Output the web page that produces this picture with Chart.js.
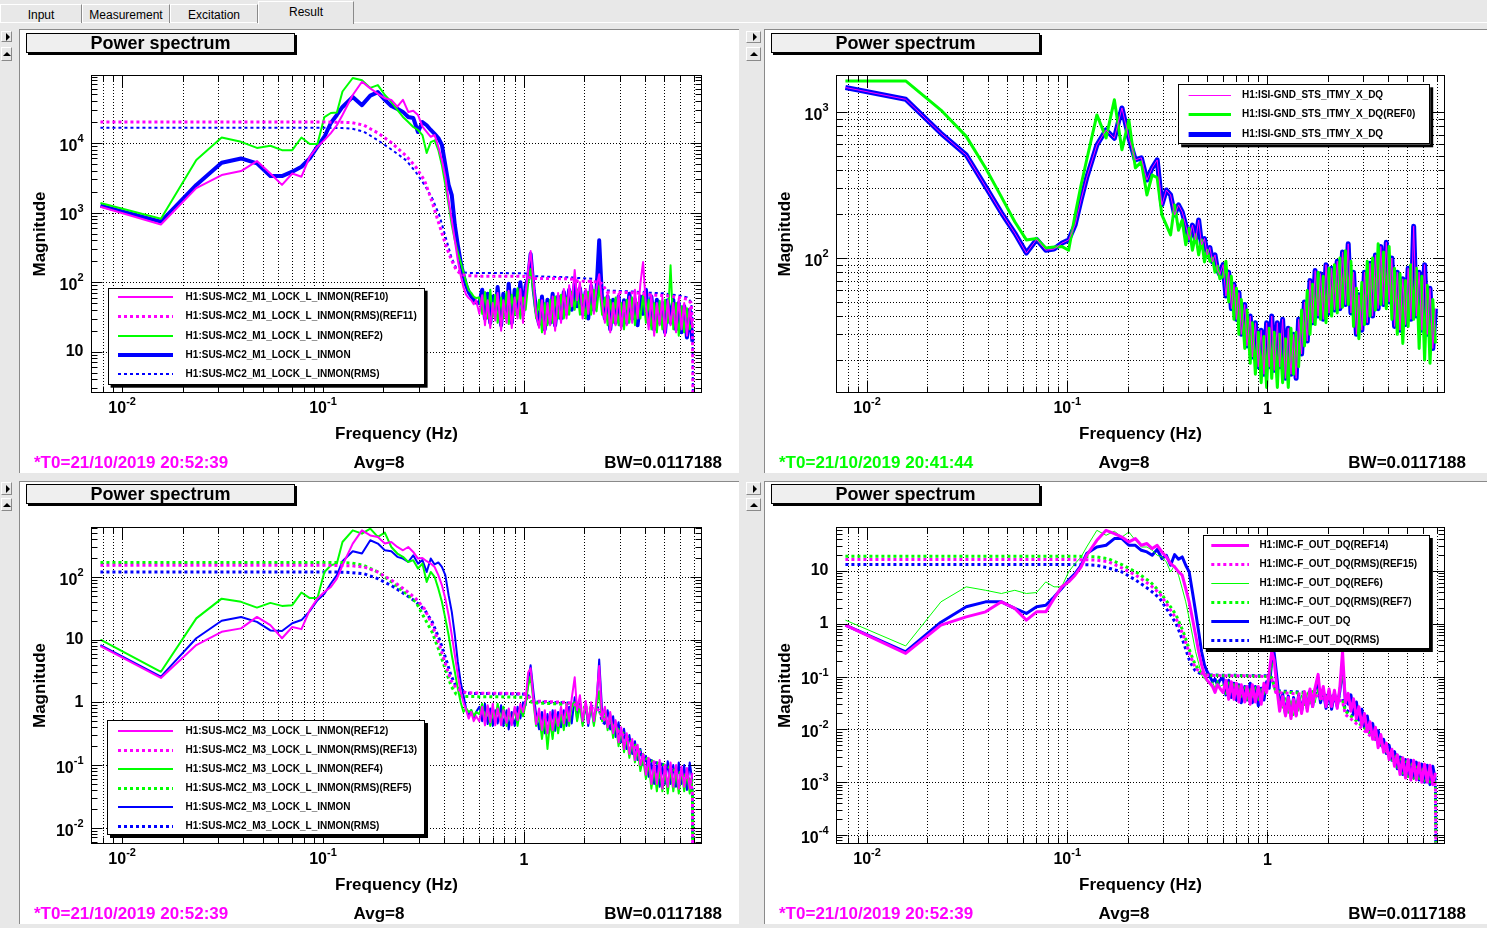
<!DOCTYPE html>
<html>
<head>
<meta charset="utf-8">
<title>Power spectrum</title>
<script src="https://cdn.jsdelivr.net/npm/chart.js@4.4.1/dist/chart.umd.min.js"></script>
<style>
  body { margin: 0; width: 1487px; height: 928px; background: #e8e8e8; position: relative; overflow: hidden; font-family: "Liberation Sans", Arial, sans-serif; }
  .tab { position: absolute; top: 4px; height: 19px; box-sizing: border-box; border-top: 1px solid #fff; border-left: 1px solid #fff; border-right: 1px solid #8a8a8a; font-size: 12px; line-height: 20px; text-align: center; color: #000; }
  .tab.sel { top: 1px; height: 23px; line-height: 21px; background: #e8e8e8; z-index: 2; }
  #tabline { position: absolute; left: 0; top: 22px; width: 1487px; height: 1px; background: #fff; }
  .btn { position: absolute; box-sizing: border-box; background: #e8e8e8; border-top: 1px solid #fff; border-left: 1px solid #fff; border-right: 1px solid #8a8a8a; border-bottom: 1px solid #8a8a8a; }
  .btn i { position: absolute; left: 50%; top: 50%; width: 0; height: 0; }
  .btn.right i { margin: -4px 0 0 -1px; border-top: 4px solid transparent; border-bottom: 4px solid transparent; border-left: 4px solid #000; }
  .btn.up i { margin: -2px 0 0 -4px; border-left: 4px solid transparent; border-right: 4px solid transparent; border-bottom: 4px solid #000; }
  .panel { position: absolute; background: #fff; box-shadow: inset 1px 1px 0 #8a8a8a; }
  .panel canvas { position: absolute; left: 0; top: 0; }
  .ptitle { position: absolute; left: 7px; top: 4px; width: 269px; height: 20px; box-sizing: border-box; border: 1px solid #000; background: #efefef; box-shadow: 2px 2px 0 #000; font: bold 18px "Liberation Sans", Arial, sans-serif; line-height: 19px; text-align: center; }
  .st { position: absolute; top: 425px; font: bold 17px "Liberation Sans", Arial, sans-serif; line-height: 18px; white-space: nowrap; }
  .st.avg { left: 360px; transform: translateX(-50%); }
  .low .st { top: 424px; }
</style>
</head>
<body>
<div id="tabline"></div>
<div class="tab" style="left:0;width:82px">Input</div>
<div class="tab" style="left:82px;width:88px">Measurement</div>
<div class="tab" style="left:170px;width:88px">Excitation</div>
<div class="tab sel" style="left:258px;width:96px">Result</div>

<div class="btn right" style="left:1px;top:31px;width:11px;height:11px"><i></i></div>
<div class="btn up" style="left:1px;top:47px;width:11px;height:14px"><i></i></div>
<div class="btn right" style="left:746px;top:31px;width:15px;height:12px"><i></i></div>
<div class="btn up" style="left:746px;top:47px;width:15px;height:14px"><i></i></div>
<div class="btn right" style="left:1px;top:482px;width:11px;height:13px"><i></i></div>
<div class="btn up" style="left:1px;top:498px;width:11px;height:13px"><i></i></div>
<div class="btn right" style="left:746px;top:482px;width:15px;height:13px"><i></i></div>
<div class="btn up" style="left:746px;top:498px;width:15px;height:13px"><i></i></div>

<div class="panel" style="left:19px;top:29px;width:720px;height:444px">
  <canvas id="c1" width="720" height="444"></canvas>
  <div class="ptitle">Power spectrum</div>
  <div class="st" style="left:15px;color:#ff00ff">*T0=21/10/2019 20:52:39</div>
  <div class="st avg">Avg=8</div>
  <div class="st" style="right:17px">BW=0.0117188</div>
</div>
<div class="panel" style="left:764px;top:29px;width:723px;height:444px">
  <canvas id="c2" width="723" height="444"></canvas>
  <div class="ptitle">Power spectrum</div>
  <div class="st" style="left:15px;color:#00ff00">*T0=21/10/2019 20:41:44</div>
  <div class="st avg">Avg=8</div>
  <div class="st" style="right:21px">BW=0.0117188</div>
</div>
<div class="panel low" style="left:19px;top:481px;width:720px;height:443px">
  <canvas id="c3" width="720" height="443"></canvas>
  <div class="ptitle" style="top:3px">Power spectrum</div>
  <div class="st" style="left:15px;color:#ff00ff">*T0=21/10/2019 20:52:39</div>
  <div class="st avg">Avg=8</div>
  <div class="st" style="right:17px">BW=0.0117188</div>
</div>
<div class="panel low" style="left:764px;top:481px;width:723px;height:443px">
  <canvas id="c4" width="723" height="443"></canvas>
  <div class="ptitle" style="top:3px">Power spectrum</div>
  <div class="st" style="left:15px;color:#ff00ff">*T0=21/10/2019 20:52:39</div>
  <div class="st avg">Avg=8</div>
  <div class="st" style="right:21px">BW=0.0117188</div>
</div>

<script>
// frequency bins shared by every spectrum (Hz)
const freq = [
  0.0078, 0.0156, 0.0234, 0.0313, 0.0391, 0.0469, 0.0547, 0.0625, 0.0703, 0.0781, 0.0859, 0.0938, 0.1016, 0.1094, 0.1172, 0.125,
  0.1406, 0.1563, 0.1719, 0.1875, 0.2031, 0.2188, 0.2344, 0.25, 0.2656, 0.2813, 0.2969, 0.3125,
  0.3281, 0.3438, 0.3594, 0.375, 0.3906, 0.4063, 0.4219, 0.4375, 0.4531, 0.4688, 0.4844, 0.5, 0.5156, 0.5313, 0.5469, 0.5625, 0.5781,
  0.60, 0.62, 0.64, 0.66, 0.68, 0.70, 0.72, 0.74, 0.77, 0.79,
  0.82, 0.84, 0.87, 0.90, 0.93, 0.96, 0.99, 1.02, 1.05, 1.08,
  1.12, 1.15, 1.19, 1.23, 1.27, 1.31, 1.35, 1.39, 1.43, 1.48,
  1.53, 1.58, 1.63, 1.68, 1.73, 1.79, 1.84, 1.90, 1.96, 2.03,
  2.09, 2.16, 2.23, 2.30, 2.37, 2.45, 2.53, 2.61, 2.69, 2.78,
  2.86, 2.96, 3.05, 3.15, 3.25, 3.35, 3.46, 3.57, 3.68, 3.80,
  3.92, 4.05, 4.18, 4.31, 4.45, 4.59, 4.74, 4.89, 5.04, 5.20,
  5.37, 5.54, 5.72, 5.90, 6.09, 6.28, 6.48, 6.69, 6.90,
];
// frequencies for the cumulative RMS curves (Hz)
const rmsFreq = [
  0.0078, 0.05, 0.1, 0.125, 0.14, 0.16, 0.187, 0.22, 0.26, 0.29, 0.32, 0.35, 0.38, 0.41, 0.435, 0.46, 0.49, 0.52,
  0.6, 0.8, 1.0, 1.05, 1.1, 1.3, 1.6, 1.75, 1.85, 2.2, 2.37, 2.45, 2.6, 3.2, 3.6, 3.9, 4.0, 4.5, 5.0, 5.37, 5.5,
  6.0, 6.5, 6.8, 6.9, 6.95,
];

// top left: H1:SUS-MC2_M1_LOCK_L_INMON
const m1Ref10 = [
  1210, 675, 2250, 3460, 3950, 5500, 3650, 2500, 3650, 3280, 6350, 8850, 11000, 13900, 18000, 25300,
  49000, 76000, 61000, 51000, 44000, 41700, 33300, 41700, 28000, 29000, 25300, 17200,
  14500, 12300, 13000, 8850, 5700, 3280, 1500, 780, 400, 205, 126, 85, 66, 59, 55, 48, 55,
  35, 65, 24, 55, 22, 50, 28, 70, 20, 55,
  26, 75, 22, 60, 30, 80, 26, 70, 150, 280,
  90, 35, 22, 55, 18, 50, 24, 62, 20, 70,
  26, 80, 30, 90, 45, 150, 55, 100, 30, 80,
  35, 105, 35, 85, 130, 50, 26, 70, 19, 50,
  24, 68, 21, 52, 24, 62, 26, 78, 30, 95,
  195, 45, 21, 65, 17, 50, 24, 60, 17, 55,
  24, 50, 19, 58, 21, 50, 17, 42, 22,
];
const m1Ref2 = [
  1370, 815, 5700, 12000, 10400, 8500, 9150, 7900, 7900, 12000, 9700, 9700, 23600, 27000, 27500, 55000,
  86000, 80000, 62000, 68000, 49000, 39000, 30000, 23700, 20000, 17000, 15400, 13000,
  7200, 10300, 10900, 7900, 4800, 2500, 1290, 660, 400, 270, 195, 140, 100, 77, 70, 62, 59,
  60, 35, 72, 30, 78, 32, 66, 26, 60, 30,
  72, 25, 66, 34, 82, 30, 60, 40, 95, 155,
  65, 30, 56, 19, 50, 24, 56, 26, 62, 30,
  66, 30, 60, 34, 72, 40, 78, 34, 66, 30,
  72, 34, 78, 38, 88, 34, 60, 24, 56, 26,
  60, 24, 50, 21, 56, 26, 60, 24, 50, 30,
  66, 26, 56, 21, 50, 19, 54, 21, 56, 26,
  175, 21, 50, 17, 45, 19, 42, 21, 26,
];
const m1Now = [
  1260, 740, 2500, 5200, 6000, 5100, 3350, 3350, 3870, 4560, 6000, 8850, 12300, 19400, 25300, 33000,
  46000, 35000, 48000, 54000, 41700, 34000, 31000, 28000, 23700, 22900, 14400, 20000,
  18000, 15400, 13500, 11800, 9400, 4800, 2500, 1780, 660, 340, 195, 126, 90, 72, 63, 55, 51,
  50, 78, 30, 68, 26, 62, 35, 85, 24, 68,
  32, 95, 26, 78, 40, 100, 35, 88, 115, 255,
  75, 40, 25, 62, 21, 56, 26, 68, 24, 62,
  30, 72, 35, 78, 40, 95, 45, 82, 35, 72,
  30, 88, 40, 78, 400, 55, 30, 62, 21, 56,
  26, 62, 24, 55, 26, 68, 30, 56, 24, 62,
  35, 78, 26, 62, 21, 56, 26, 50, 19, 55,
  26, 56, 21, 50, 19, 45, 16, 40, 14,
];
const m1RmsRef11 = [
  20000, 20000, 20000, 19900, 19600, 18000, 14000, 10000, 6500, 4500, 2900, 1400, 650, 330, 210, 150, 128, 124,
  122, 122, 121, 119, 113, 113, 112, 110, 104, 102, 100, 95, 72, 71, 70, 69, 66, 65, 64, 63, 62,
  60, 57, 50, 28, 1,
];
const m1RmsNow = [
  16600, 16600, 16550, 16400, 16000, 14500, 11000, 8000, 5600, 3800, 2500, 1600, 900, 420, 230, 160, 140, 136,
  135, 135, 134, 132, 122, 120, 118, 117, 115, 112, 105, 80, 76, 74, 73, 72, 71, 70, 69, 67, 66,
  64, 60, 52, 30, 1,
];

// top right: H1:ISI-GND_STS_ITMY_X_DQ
const stsNow = [
  1470, 1220, 714, 507, 308, 204, 148, 108, 134, 113, 115, 126, 133, 168, 250, 354,
  594, 753, 660, 1065, 664, 469, 485, 342, 414, 469, 231, 292,
  270, 197, 231, 207, 168, 133, 168, 133, 182, 123, 136, 105, 118, 94, 105, 83, 77,
  90, 55, 80, 45, 66, 38, 58, 30, 48, 25,
  40, 21, 36, 18, 32, 16, 36, 18, 40, 17,
  36, 18, 38, 15, 33, 16, 30, 15, 38, 22,
  50, 27, 70, 36, 82, 40, 78, 38, 90, 42,
  85, 44, 95, 45, 110, 48, 125, 42, 80, 30,
  56, 32, 80, 36, 92, 40, 105, 45, 120, 48,
  128, 50, 100, 34, 80, 32, 72, 35, 85, 38,
  165, 40, 80, 32, 90, 30, 62, 24, 45,
];
const stsRef0 = [
  1630, 1630, 1030, 680, 413, 262, 177, 133, 136, 117, 119, 120, 113, 197, 316, 469,
  954, 664, 1210, 550, 881, 414, 455, 270, 370, 354, 197, 168,
  144, 231, 155, 182, 123, 160, 113, 144, 105, 133, 94, 113, 95, 100, 80, 88, 72,
  75, 95, 50, 75, 38, 62, 30, 52, 24, 44,
  19, 36, 16, 31, 14, 29, 13, 33, 15, 31,
  13, 30, 14, 28, 13, 33, 16, 31, 18, 44,
  25, 60, 30, 66, 35, 80, 38, 75, 36, 85,
  40, 90, 42, 100, 46, 112, 48, 95, 34, 62,
  28, 68, 35, 95, 40, 100, 44, 125, 48, 110,
  45, 120, 38, 85, 30, 78, 26, 70, 34, 90,
  38, 85, 24, 75, 20, 65, 19, 52, 26,
];

// bottom left: H1:SUS-MC2_M3_LOCK_L_INMON
const m3Ref12 = [
  7.9, 2.45, 8.2, 13.3, 15.1, 23, 17, 10.5, 15.9, 14.7, 29.5, 45, 57.5, 69, 94, 153,
  340, 553, 459, 434, 340, 360, 300, 266, 300, 250, 196, 200,
  178, 163, 144, 107, 74, 45, 24.5, 11.8, 5.66, 2.72, 1.48, 1.0, 0.75, 0.55, 0.7, 0.5, 0.6,
  0.5, 0.85, 0.43, 0.9, 0.48, 0.95, 0.43, 0.8, 0.43, 0.75,
  0.47, 0.8, 0.43, 0.85, 0.52, 0.95, 0.7, 1.1, 3.0, 3.5,
  1.0, 0.45, 0.8, 0.36, 0.75, 0.32, 0.7, 0.36, 0.75, 0.42,
  0.85, 0.46, 0.95, 0.5, 1.15, 2.5, 0.75, 1.3, 0.5, 1.05,
  0.46, 1.0, 0.5, 1.15, 3.8, 0.55, 0.85, 0.4, 0.7, 0.32,
  0.52, 0.23, 0.4, 0.18, 0.32, 0.15, 0.26, 0.12, 0.21, 0.1,
  0.15, 0.07, 0.13, 0.05, 0.11, 0.05, 0.12, 0.042, 0.1, 0.045,
  0.11, 0.045, 0.1, 0.042, 0.095, 0.045, 0.09, 0.042, 0.075,
];
const m3Ref4 = [
  10, 3.07, 21.8, 45, 40, 32.4, 38.5, 34.5, 35.4, 56.4, 46, 46, 120, 153, 163, 360,
  553, 490, 590, 434, 510, 300, 236, 209, 173, 185, 136, 163,
  83, 120, 100, 65, 40, 21.8, 11.8, 5.66, 3.07, 1.66, 1.0, 0.7, 0.8, 0.7, 0.75, 0.6, 0.7,
  0.65, 0.95, 0.5, 0.85, 0.42, 0.75, 0.5, 0.95, 0.46, 0.85,
  0.42, 0.75, 0.46, 0.8, 0.42, 0.85, 0.6, 0.95, 1.8, 2.6,
  0.9, 0.42, 0.65, 0.26, 0.6, 0.18, 0.5, 0.26, 0.65, 0.32,
  0.7, 0.36, 0.8, 0.42, 0.9, 1.0, 0.5, 0.9, 0.42, 0.95,
  0.5, 0.9, 0.42, 0.85, 1.5, 0.5, 0.8, 0.36, 0.65, 0.27,
  0.48, 0.2, 0.37, 0.16, 0.28, 0.13, 0.24, 0.11, 0.18, 0.08,
  0.13, 0.06, 0.11, 0.042, 0.09, 0.038, 0.09, 0.038, 0.085, 0.035,
  0.09, 0.038, 0.08, 0.035, 0.085, 0.038, 0.075, 0.035, 0.06,
];
const m3Now = [
  8.2, 2.57, 10.5, 20, 23, 19.2, 14, 13.7, 18.2, 20.5, 28.5, 42.5, 54, 78.5, 107, 178,
  257, 236, 384, 340, 266, 257, 209, 196, 173, 221, 163, 185,
  120, 196, 158, 170, 144, 107, 51, 27.7, 11.8, 4.4, 2.1, 1.3, 0.8, 0.6, 0.75, 0.55, 0.7,
  0.85, 0.5, 0.95, 0.45, 0.8, 0.42, 0.75, 0.46, 0.9, 0.42,
  0.75, 0.37, 0.7, 0.42, 0.85, 0.55, 1.0, 0.9, 2.2, 3.9,
  1.3, 0.65, 0.37, 0.7, 0.32, 0.65, 0.37, 0.75, 0.35, 0.7,
  0.4, 0.75, 0.42, 0.85, 0.46, 1.2, 0.55, 0.95, 0.46, 0.9,
  0.42, 0.85, 0.46, 0.95, 4.8, 0.75, 0.46, 0.75, 0.37, 0.6,
  0.28, 0.48, 0.23, 0.38, 0.18, 0.3, 0.15, 0.24, 0.12, 0.18,
  0.1, 0.14, 0.065, 0.11, 0.05, 0.1, 0.045, 0.095, 0.05, 0.115,
  0.05, 0.1, 0.045, 0.11, 0.05, 0.1, 0.04, 0.11, 0.055,
];
const m3RmsRef13 = [
  153, 153, 153, 152, 150, 144, 120, 88, 60, 45, 31, 17, 8.2, 3.8, 2.2, 1.7, 1.5, 1.42,
  1.4, 1.39, 1.37, 1.3, 1.05, 1.03, 1.0, 0.97, 0.85, 0.8, 0.75, 0.58, 0.48, 0.28, 0.19, 0.14, 0.13, 0.11, 0.095, 0.088, 0.083,
  0.072, 0.062, 0.052, 0.035, 0.001,
];
const m3RmsRef5 = [
  170, 170, 170, 169, 166, 152, 120, 83, 54, 40, 22, 13, 6.4, 3.1, 1.8, 1.35, 1.26, 1.24,
  1.23, 1.22, 1.2, 1.15, 0.98, 0.96, 0.93, 0.9, 0.86, 0.8, 0.74, 0.6, 0.5, 0.3, 0.2, 0.15, 0.13, 0.11, 0.1, 0.09, 0.085,
  0.075, 0.065, 0.055, 0.035, 0.001,
];
const m3RmsNow = [
  120, 120, 120, 119, 117, 112, 94, 72, 51, 40, 30, 19, 10, 4.8, 2.6, 1.8, 1.5, 1.4,
  1.38, 1.37, 1.35, 1.28, 1.02, 1.0, 0.98, 0.96, 0.9, 0.86, 0.8, 0.5, 0.42, 0.26, 0.18, 0.14, 0.13, 0.11, 0.1, 0.09, 0.085,
  0.075, 0.064, 0.054, 0.036, 0.001,
];

// bottom right: H1:IMC-F_OUT_DQ
const imcRef14 = [
  0.94, 0.275, 0.94, 1.35, 1.68, 2.6, 1.95, 1.17, 1.68, 1.68, 3.0, 5.0, 6.2, 8.3, 11.9, 19.8,
  38, 58.7, 51, 43.8, 35.4, 41, 30.6, 33, 26.5, 30.6, 22.9, 18.4,
  13.8, 11.9, 9.6, 8.3, 4.65, 2.6, 1.26, 0.61, 0.295, 0.166, 0.107, 0.085, 0.075, 0.065, 0.05, 0.07, 0.06,
  0.05, 0.085, 0.037, 0.08, 0.037, 0.075, 0.033, 0.07, 0.033, 0.065,
  0.03, 0.07, 0.033, 0.065, 0.03, 0.075, 0.05, 0.12, 0.3, 0.2,
  0.05, 0.022, 0.042, 0.018, 0.04, 0.016, 0.037, 0.018, 0.042, 0.02,
  0.052, 0.022, 0.058, 0.027, 0.062, 0.11, 0.038, 0.065, 0.027, 0.058,
  0.027, 0.055, 0.025, 0.065, 0.3, 0.032, 0.048, 0.022, 0.038, 0.016,
  0.027, 0.012, 0.02, 0.009, 0.014, 0.0065, 0.011, 0.0045, 0.008, 0.0037,
  0.0055, 0.0027, 0.0042, 0.002, 0.0033, 0.0014, 0.0029, 0.0012, 0.0027, 0.0011,
  0.0026, 0.0011, 0.0023, 0.001, 0.0022, 0.001, 0.0021, 0.0009, 0.0015,
];
const imcRef6 = [
  1.17, 0.38, 2.6, 5.0, 4.3, 3.74, 4.3, 3.74, 3.9, 6.2, 5.0, 5.0, 9.6, 13.8, 18.4, 28.4,
  58.7, 47.3, 56.4, 43.8, 54.5, 38, 28.4, 28.4, 24.6, 19.8, 18.4, 14.8,
  9.6, 12.8, 8.3, 4.65, 2.6, 1.26, 0.61, 0.295, 0.178, 0.107, 0.09, 0.08, 0.07, 0.08, 0.06, 0.085, 0.065,
  0.07, 0.045, 0.08, 0.05, 0.075, 0.045, 0.07, 0.04, 0.065, 0.035,
  0.06, 0.04, 0.065, 0.035, 0.06, 0.045, 0.07, 0.08, 0.15, 0.22,
  0.06, 0.035, 0.025, 0.04, 0.02, 0.035, 0.018, 0.035, 0.022, 0.045,
  0.028, 0.05, 0.03, 0.055, 0.032, 0.06, 0.035, 0.055, 0.032, 0.05,
  0.03, 0.05, 0.032, 0.055, 0.1, 0.035, 0.04, 0.03, 0.028, 0.022,
  0.02, 0.016, 0.014, 0.011, 0.01, 0.008, 0.0075, 0.006, 0.005, 0.0045,
  0.0035, 0.0032, 0.0025, 0.0024, 0.0018, 0.002, 0.0014, 0.0018, 0.0012, 0.0017,
  0.0011, 0.0016, 0.0011, 0.0015, 0.001, 0.0014, 0.00095, 0.0013, 0.001,
];
const imcNow = [
  0.94, 0.295, 1.07, 2.1, 2.6, 2.6, 1.95, 1.57, 2.1, 2.24, 3.2, 4.65, 6.7, 8.9, 12.8, 21.3,
  28.4, 30.6, 41, 41, 30.6, 30.6, 24.6, 22.9, 19.8, 25.6, 17.1, 19.8,
  12.8, 20.4, 16.6, 18.4, 12.8, 9.6, 4.0, 1.68, 0.71, 0.295, 0.166, 0.123, 0.1, 0.08, 0.09, 0.07, 0.085,
  0.095, 0.045, 0.085, 0.04, 0.075, 0.036, 0.07, 0.032, 0.065, 0.036,
  0.075, 0.032, 0.065, 0.028, 0.06, 0.036, 0.08, 0.06, 0.2, 0.28,
  0.08, 0.027, 0.048, 0.019, 0.043, 0.018, 0.04, 0.019, 0.045, 0.022,
  0.048, 0.025, 0.054, 0.027, 0.058, 0.07, 0.032, 0.054, 0.025, 0.052,
  0.024, 0.048, 0.027, 0.054, 0.16, 0.036, 0.03, 0.045, 0.02, 0.033,
  0.015, 0.024, 0.011, 0.018, 0.008, 0.013, 0.0065, 0.0095, 0.005, 0.0065,
  0.0035, 0.005, 0.0026, 0.0038, 0.0018, 0.003, 0.0014, 0.0027, 0.0013, 0.0026,
  0.0012, 0.0024, 0.0011, 0.0022, 0.001, 0.0021, 0.0009, 0.002, 0.0011,
];
const imcRmsRef15 = [
  16.4, 16.4, 16.4, 16.3, 16, 15, 11.4, 8.3, 5.4, 3.7, 2.1, 1.25, 0.6, 0.26, 0.15, 0.12, 0.108, 0.105,
  0.104, 0.103, 0.1, 0.09, 0.05, 0.048, 0.046, 0.044, 0.039, 0.037, 0.034, 0.019, 0.016, 0.008, 0.0055, 0.004, 0.0036, 0.0029, 0.0024, 0.0021, 0.002,
  0.0017, 0.0014, 0.0011, 0.0008, 0.00001,
];
const imcRmsRef7 = [
  19, 19, 19, 18.8, 18.4, 17, 13.2, 9.6, 6.2, 4.0, 2.4, 1.45, 0.7, 0.3, 0.17, 0.125, 0.108, 0.105,
  0.104, 0.103, 0.1, 0.095, 0.052, 0.05, 0.048, 0.046, 0.043, 0.04, 0.036, 0.022, 0.018, 0.009, 0.006, 0.0043, 0.0038, 0.0029, 0.0024, 0.0021, 0.002,
  0.0017, 0.0014, 0.0011, 0.0008, 0.00001,
];
const imcRmsNow = [
  13.2, 13.2, 13.2, 13.1, 12.8, 11.4, 9.6, 6.7, 4.3, 3.0, 1.7, 1.0, 0.45, 0.19, 0.13, 0.115, 0.11, 0.107,
  0.106, 0.105, 0.103, 0.095, 0.054, 0.052, 0.05, 0.048, 0.045, 0.042, 0.038, 0.024, 0.02, 0.01, 0.0065, 0.0046, 0.0041, 0.0031, 0.0025, 0.0022, 0.0021,
  0.0018, 0.0015, 0.0012, 0.0009, 0.00001,
];

// labelled decades
const freqLabels = [0.01, 0.1, 1];
const m1Labels = [10, 100, 1000, 10000];
const stsLabels = [100, 1000];
const m3Labels = [0.01, 0.1, 1, 10, 100];
const imcLabels = [0.0001, 0.001, 0.01, 0.1, 1, 10];

const MAGENTA = "#ff00ff";
const GREEN = "#00ff00";
const BLUE = "#0000ff";
const DOTS = [3, 3];
const FONT = '"Liberation Sans", Arial, sans-serif';

const panels = [
  {
    canvas: "c1",
    padding: { left: 72, top: 46, right: 37, bottom: 80 },
    yMin: 2.55, yMax: 95000, yLabels: m1Labels, yMinorGrid: false,
    legend: { left: 88.6, top: 258.7, width: 317, height: 97, firstRow: 9, rowGap: 19.4, lineFrom: 10.4, lineTo: 65.4, textAt: 78 },
    series: [
      { label: "H1:SUS-MC2_M1_LOCK_L_INMON(REF10)", x: freq, y: m1Ref10, color: MAGENTA, width: 2 },
      { label: "H1:SUS-MC2_M1_LOCK_L_INMON(RMS)(REF11)", x: rmsFreq, y: m1RmsRef11, color: MAGENTA, width: 3, dash: DOTS },
      { label: "H1:SUS-MC2_M1_LOCK_L_INMON(REF2)", x: freq, y: m1Ref2, color: GREEN, width: 2 },
      { label: "H1:SUS-MC2_M1_LOCK_L_INMON", x: freq, y: m1Now, color: BLUE, width: 4 },
      { label: "H1:SUS-MC2_M1_LOCK_L_INMON(RMS)", x: rmsFreq, y: m1RmsNow, color: BLUE, width: 2, dash: DOTS },
    ],
  },
  {
    canvas: "c2",
    padding: { left: 72, top: 46, right: 42, bottom: 80 },
    yMin: 11.9, yMax: 1790, yLabels: stsLabels, yMinorGrid: true,
    legend: { left: 414.2, top: 55.3, width: 252, height: 60, firstRow: 10.4, rowGap: 19.65, lineFrom: 10.4, lineTo: 52.8, textAt: 63.8 },
    series: [
      { label: "H1:ISI-GND_STS_ITMY_X_DQ", x: freq, y: stsNow, color: MAGENTA, width: 1 },
      { label: "H1:ISI-GND_STS_ITMY_X_DQ(REF0)", x: freq, y: stsRef0, color: GREEN, width: 3 },
      { label: "H1:ISI-GND_STS_ITMY_X_DQ", x: freq, y: stsNow, color: BLUE, width: 5 },
    ],
  },
  {
    canvas: "c3",
    padding: { left: 72, top: 46, right: 37, bottom: 80 },
    yMin: 0.0055, yMax: 625, yLabels: m3Labels, yMinorGrid: false,
    legend: { left: 88, top: 239, width: 318, height: 115, firstRow: 10.7, rowGap: 19.1, lineFrom: 11, lineTo: 66, textAt: 78.5 },
    series: [
      { label: "H1:SUS-MC2_M3_LOCK_L_INMON(REF12)", x: freq, y: m3Ref12, color: MAGENTA, width: 2 },
      { label: "H1:SUS-MC2_M3_LOCK_L_INMON(RMS)(REF13)", x: rmsFreq, y: m3RmsRef13, color: MAGENTA, width: 3, dash: DOTS },
      { label: "H1:SUS-MC2_M3_LOCK_L_INMON(REF4)", x: freq, y: m3Ref4, color: GREEN, width: 2 },
      { label: "H1:SUS-MC2_M3_LOCK_L_INMON(RMS)(REF5)", x: rmsFreq, y: m3RmsRef5, color: GREEN, width: 3, dash: DOTS },
      { label: "H1:SUS-MC2_M3_LOCK_L_INMON", x: freq, y: m3Now, color: BLUE, width: 2 },
      { label: "H1:SUS-MC2_M3_LOCK_L_INMON(RMS)", x: rmsFreq, y: m3RmsNow, color: BLUE, width: 3, dash: DOTS },
    ],
  },
  {
    canvas: "c4",
    padding: { left: 72, top: 46, right: 42, bottom: 80 },
    yMin: 0.0000676, yMax: 67.9, yLabels: imcLabels, yMinorGrid: false,
    legend: { left: 438.8, top: 54, width: 227, height: 114, firstRow: 9.7, rowGap: 19.06, lineFrom: 8.5, lineTo: 46.2, textAt: 56.6 },
    series: [
      { label: "H1:IMC-F_OUT_DQ(REF14)", x: freq, y: imcRef14, color: MAGENTA, width: 3 },
      { label: "H1:IMC-F_OUT_DQ(RMS)(REF15)", x: rmsFreq, y: imcRmsRef15, color: MAGENTA, width: 3, dash: DOTS },
      { label: "H1:IMC-F_OUT_DQ(REF6)", x: freq, y: imcRef6, color: GREEN, width: 1 },
      { label: "H1:IMC-F_OUT_DQ(RMS)(REF7)", x: rmsFreq, y: imcRmsRef7, color: GREEN, width: 3, dash: DOTS },
      { label: "H1:IMC-F_OUT_DQ", x: freq, y: imcNow, color: BLUE, width: 3 },
      { label: "H1:IMC-F_OUT_DQ(RMS)", x: rmsFreq, y: imcRmsNow, color: BLUE, width: 3, dash: DOTS },
    ],
  },
];

function isDecade(v) {
  const l = Math.log10(v);
  return Math.abs(l - Math.round(l)) < 1e-6;
}

// 1..9 x 10^n ticks, like ROOT's log axis
function logTicks(scale) {
  const ticks = [];
  const lo = Math.floor(Math.log10(scale.min));
  const hi = Math.ceil(Math.log10(scale.max));
  for (let e = lo; e <= hi; e++) {
    for (let k = 1; k <= 9; k++) {
      const v = Number((k * Math.pow(10, e)).toPrecision(6));
      if (v >= scale.min && v <= scale.max) ticks.push({ value: v });
    }
  }
  scale.ticks = ticks;
}

function drawPower(ctx, v, px, py, axis) {
  const e = Math.round(Math.log10(v));
  const base = e === 0 ? "1" : "10";
  const sup = e === 0 || e === 1 ? "" : String(e);
  ctx.font = "bold 16px " + FONT;
  const bw = ctx.measureText(base).width;
  ctx.font = "bold 11px " + FONT;
  const sw = sup ? ctx.measureText(sup).width : 0;
  const left = axis === "x" ? px - (bw + sw) / 2 : px - bw - sw;
  let by, sy;
  if (axis === "x") {
    by = py + (sup ? 16 : 17);
    sy = py + 8.5;
  } else {
    by = py + (sup ? 3.5 : 0);
    sy = py - 4;
  }
  ctx.textAlign = "left";
  ctx.textBaseline = "middle";
  ctx.font = "bold 16px " + FONT;
  ctx.fillText(base, left, by);
  if (sup) {
    ctx.font = "bold 11px " + FONT;
    ctx.fillText(sup, left + bw, sy);
  }
}

function rootPlugin(p) {
  return {
    id: "rootFrame",
    beforeDatasetsDraw(chart) {
      const { ctx, chartArea: a, scales: { x, y } } = chart;
      ctx.save();
      ctx.strokeStyle = "#000";
      ctx.lineWidth = 1;
      ctx.setLineDash([1, 2]);
      ctx.beginPath();
      x.ticks.forEach((t) => {
        const px = Math.round(x.getPixelForValue(t.value)) + 0.5;
        ctx.moveTo(px, a.top);
        ctx.lineTo(px, a.bottom);
      });
      y.ticks.forEach((t) => {
        if (!p.yMinorGrid && !isDecade(t.value)) return;
        const py = Math.round(y.getPixelForValue(t.value)) + 0.5;
        ctx.moveTo(a.left, py);
        ctx.lineTo(a.right, py);
      });
      ctx.stroke();
      ctx.restore();
    },
    afterDraw(chart) {
      const { ctx, chartArea: a, scales: { x, y } } = chart;
      ctx.save();
      ctx.setLineDash([]);
      ctx.strokeStyle = "#000";
      ctx.lineWidth = 1;
      const L = Math.round(a.left) + 0.5;
      const R = Math.round(a.right) - 0.5;
      const T = Math.round(a.top) + 0.5;
      const B = Math.round(a.bottom) - 0.5;
      ctx.strokeRect(L, T, R - L, B - T);
      ctx.beginPath();
      x.ticks.forEach((t) => {
        const px = Math.round(x.getPixelForValue(t.value)) + 0.5;
        const len = isDecade(t.value) ? 12 : 6;
        ctx.moveTo(px, B);
        ctx.lineTo(px, B - len);
        ctx.moveTo(px, T);
        ctx.lineTo(px, T + len);
      });
      y.ticks.forEach((t) => {
        const py = Math.round(y.getPixelForValue(t.value)) + 0.5;
        const len = isDecade(t.value) ? 11 : 6;
        ctx.moveTo(L, py);
        ctx.lineTo(L + len, py);
        ctx.moveTo(R, py);
        ctx.lineTo(R - len, py);
      });
      ctx.stroke();

      ctx.fillStyle = "#000";
      freqLabels.forEach((v) => drawPower(ctx, v, x.getPixelForValue(v), a.bottom, "x"));
      p.yLabels.forEach((v) => drawPower(ctx, v, a.left - 7.5, y.getPixelForValue(v), "y"));

      ctx.font = "bold 17px " + FONT;
      ctx.textAlign = "center";
      ctx.textBaseline = "middle";
      ctx.fillText("Frequency (Hz)", (a.left + a.right) / 2, a.bottom + 41);
      ctx.save();
      ctx.translate(a.left - 51, (a.top + a.bottom) / 2);
      ctx.rotate(-Math.PI / 2);
      ctx.fillText("Magnitude", 0, 0);
      ctx.restore();

      // legend box with ROOT style shadow
      const lg = p.legend;
      ctx.fillStyle = "#000";
      ctx.fillRect(lg.left + 3, lg.top + 3, lg.width, lg.height);
      ctx.fillStyle = "#fff";
      ctx.fillRect(lg.left, lg.top, lg.width, lg.height);
      ctx.strokeRect(Math.round(lg.left) + 0.5, Math.round(lg.top) + 0.5, Math.round(lg.width) - 1, Math.round(lg.height) - 1);
      ctx.font = "bold 10px " + FONT;
      ctx.textAlign = "left";
      p.series.forEach((s, i) => {
        const yy = Math.round(lg.top + lg.firstRow + i * lg.rowGap);
        ctx.strokeStyle = s.color;
        ctx.lineWidth = s.width;
        ctx.setLineDash(s.dash || []);
        ctx.beginPath();
        ctx.moveTo(lg.left + lg.lineFrom, yy + (s.width % 2 ? 0.5 : 0));
        ctx.lineTo(lg.left + lg.lineTo, yy + (s.width % 2 ? 0.5 : 0));
        ctx.stroke();
        ctx.setLineDash([]);
        ctx.fillStyle = "#000";
        ctx.fillText(s.label, lg.left + lg.textAt, yy + 0.5);
      });
      ctx.restore();
    },
  };
}

panels.forEach((p) => {
  const canvas = document.getElementById(p.canvas);
  new Chart(canvas, {
    type: "line",
    data: {
      datasets: p.series.map((s) => ({
        label: s.label,
        data: s.x.map((f, i) => ({ x: f, y: s.y[i] })),
        borderColor: s.color,
        borderWidth: s.width,
        borderDash: s.dash || [],
        borderJoinStyle: "round",
        pointRadius: 0,
        pointHoverRadius: 0,
        tension: 0,
        fill: false,
        clip: 0,
      })),
    },
    options: {
      responsive: false,
      animation: false,
      devicePixelRatio: 1,
      events: [],
      layout: { padding: p.padding },
      plugins: { legend: { display: false }, tooltip: { enabled: false } },
      scales: {
        x: {
          type: "logarithmic",
          min: 0.007,
          max: 7.7,
          afterBuildTicks: logTicks,
          afterFit: (s) => { s.height = 0; },
          ticks: { display: false },
          grid: { display: false },
          border: { display: false },
        },
        y: {
          type: "logarithmic",
          min: p.yMin,
          max: p.yMax,
          afterBuildTicks: logTicks,
          afterFit: (s) => { s.width = 0; },
          ticks: { display: false },
          grid: { display: false },
          border: { display: false },
        },
      },
    },
    plugins: [rootPlugin(p)],
  });
});
</script>
</body>
</html>
